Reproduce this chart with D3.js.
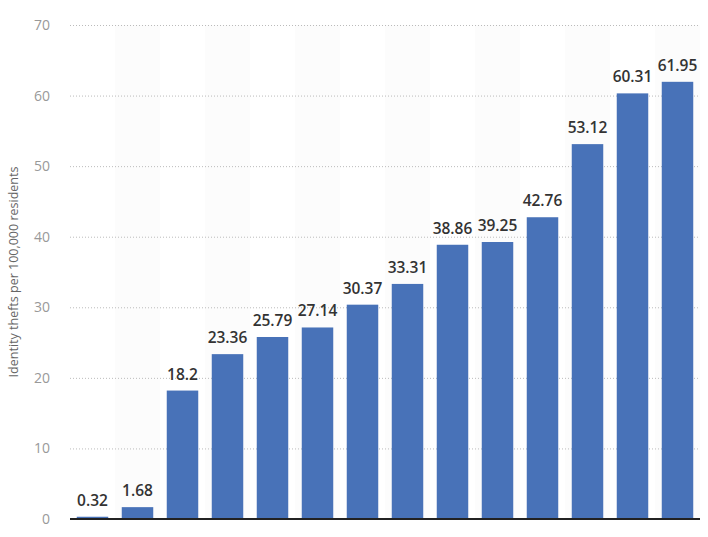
<!DOCTYPE html>
<html><head><meta charset="utf-8">
<script src="https://cdn.jsdelivr.net/npm/d3@7"></script>
<style>body{margin:0;background:#fff}svg{display:block}</style>
</head><body>
<svg id="c" width="708" height="537"></svg>
<script>
const categories = ["1","2","3","4","5","6","7","8","9","10","11","12","13","14"];
const values = [0.32,1.68,18.2,23.36,25.79,27.14,30.37,33.31,38.86,39.25,42.76,53.12,60.31,61.95];
const yTicks = [0,10,20,30,40,50,60,70];
const yTitle = "Identity thefts per 100,000 residents";

const svg = d3.select("#c");
const m = {l:70, r:8, t:25, b:18};
const W = 708, H = 537;
const x = d3.scaleBand().domain(categories).range([m.l, W-m.r]).paddingInner(0.3).paddingOuter(0.15);
const xb = d3.scaleBand().domain(categories).range([m.l, W-m.r]);
const y = d3.scaleLinear().domain([0,70]).range([H-m.b, m.t]);

svg.append("g").selectAll("rect").data(categories.filter((d,i)=>i%2===1)).join("rect")
  .attr("x", d=>xb(d)).attr("width", xb.bandwidth())
  .attr("y", y(70)).attr("height", y(0)-y(70)).attr("fill","#fcfcfc");

const g = svg.append("g").attr("transform",`translate(${m.l},0)`)
  .call(d3.axisLeft(y).tickValues(yTicks).tickSize(-(W-m.r-m.l)).tickPadding(20));
g.select(".domain").remove();
g.selectAll(".tick line").attr("stroke","#bbb").attr("stroke-dasharray","1,2").attr("stroke-width",1);
g.selectAll(".tick text").attr("fill","#999").attr("font-family","Open Sans, sans-serif").attr("font-size",14);
g.selectAll(".tick").filter(d=>d===0).select("line").remove();

svg.append("g").selectAll("rect").data(values).join("rect")
  .attr("x",(d,i)=>x(categories[i])).attr("width",x.bandwidth())
  .attr("y",d=>y(d)).attr("height",d=>y(0)-y(d)).attr("fill","#4872b8");

svg.append("g").selectAll("text").data(values).join("text")
  .attr("x",(d,i)=>x(categories[i])+x.bandwidth()/2).attr("y",d=>y(d)-11)
  .attr("text-anchor","middle").attr("font-family","Open Sans, sans-serif")
  .attr("font-weight",600).attr("font-size",15.5).attr("fill","#333")
  .text(d=>d);

svg.append("line").attr("x1",m.l).attr("x2",W-m.r).attr("y1",y(0)).attr("y2",y(0))
  .attr("stroke","#222").attr("stroke-width",2);

svg.append("text").attr("transform",`translate(18,${(y(0)+y(70))/2}) rotate(-90)`)
  .attr("text-anchor","middle").attr("font-family","Open Sans, sans-serif")
  .attr("font-size",12.5).attr("fill","#666").text(yTitle);
</script>
</body></html>
